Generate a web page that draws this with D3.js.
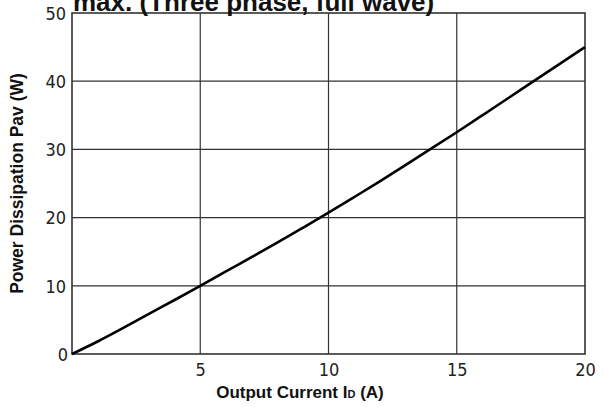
<!DOCTYPE html>
<html>
<head>
<meta charset="utf-8">
<script src="https://cdn.jsdelivr.net/npm/d3@7"></script>
<style>
  body { margin: 0; background: #fff; }
  svg { display: block; }
  .tick text { font-family: "Liberation Sans Narrow", "Arial Narrow", "DejaVu Sans Condensed", sans-serif; font-size: 18px; fill: #222; }
  .ttl { font-family: "Liberation Sans", Arial, sans-serif; font-weight: bold; fill: #111; }
</style>
</head>
<body>
<div id="chart"></div>
<script>
// data
const current = [0, 1, 2, 3, 4, 5, 6, 7, 8, 9, 10, 11, 12, 13, 14, 15, 16, 17, 18, 19, 20];
const power = [0, 1.8, 3.8, 5.9, 7.9, 10.0, 12.1, 14.2, 16.3, 18.5, 20.7, 23.0, 25.3, 27.7, 30.1, 32.5, 35.0, 37.5, 40.0, 42.5, 45.0];
const xTicks = [0, 5, 10, 15, 20];
const yTicks = [0, 10, 20, 30, 40, 50];

const width = 605, height = 407;
const margin = {top: 13, right: 20, bottom: 53, left: 72};

const svg = d3.select('#chart')
    .append('svg')
    .attr('width', width)
    .attr('height', height);

const x = d3.scaleLinear().domain([0, 20]).range([margin.left, width - margin.right]);
const y = d3.scaleLinear().domain([0, 50]).range([height - margin.bottom, margin.top]);

// grid
svg.append('g')
    .selectAll('line')
    .data(xTicks.slice(1, -1))
    .join('line')
    .attr('x1', d => x(d)).attr('x2', d => x(d))
    .attr('y1', y(0)).attr('y2', y(50))
    .attr('stroke', '#333').attr('stroke-width', 1.2);

svg.append('g')
    .selectAll('line')
    .data(yTicks.slice(1, -1))
    .join('line')
    .attr('x1', x(0)).attr('x2', x(20))
    .attr('y1', d => y(d)).attr('y2', d => y(d))
    .attr('stroke', '#333').attr('stroke-width', 1.2);

// frame
svg.append('rect')
    .attr('x', x(0)).attr('y', y(50))
    .attr('width', x(20) - x(0)).attr('height', y(0) - y(50))
    .attr('fill', 'none').attr('stroke', '#333').attr('stroke-width', 1.6);

// axes (labels only)
const xAxis = svg.append('g')
    .attr('transform', `translate(0,${y(0)})`)
    .call(d3.axisBottom(x).tickValues(xTicks.slice(1)).tickSize(0).tickPadding(9));
xAxis.select('.domain').remove();

const yAxis = svg.append('g')
    .attr('transform', `translate(${x(0)},0)`)
    .call(d3.axisLeft(y).tickValues(yTicks).tickSize(0).tickPadding(6));
yAxis.select('.domain').remove();
yAxis.selectAll('.tick text').attr('dy', '0.35em');
yAxis.selectAll('.tick').filter(d => d === 0).select('text').attr('x', -4);

// curve
const line = d3.line()
    .x((d, i) => x(current[i]))
    .y(d => y(d))
    .curve(d3.curveBasis);

svg.append('path')
    .datum(power)
    .attr('d', line)
    .attr('fill', 'none')
    .attr('stroke', '#000')
    .attr('stroke-width', 2.6);

// titles (top title is cut by the edge, as in the source)
svg.append('text')
    .attr('class', 'ttl')
    .attr('x', 73).attr('y', 11)
    .attr('font-size', 26)
    .text('max. (Three phase, full wave)');

const xt = svg.append('text')
    .attr('class', 'ttl')
    .attr('x', 300).attr('y', 398)
    .attr('text-anchor', 'middle')
    .attr('font-size', 17);
xt.append('tspan').text('Output Current I');
xt.append('tspan').attr('font-size', 11).text('D');
xt.append('tspan').text(' (A)');

svg.append('text')
    .attr('class', 'ttl')
    .attr('transform', `translate(23,${(y(0) + y(50)) / 2}) rotate(-90)`)
    .attr('text-anchor', 'middle')
    .attr('font-size', 17.5)
    .text('Power Dissipation Pav (W)');
</script>
</body>
</html>
